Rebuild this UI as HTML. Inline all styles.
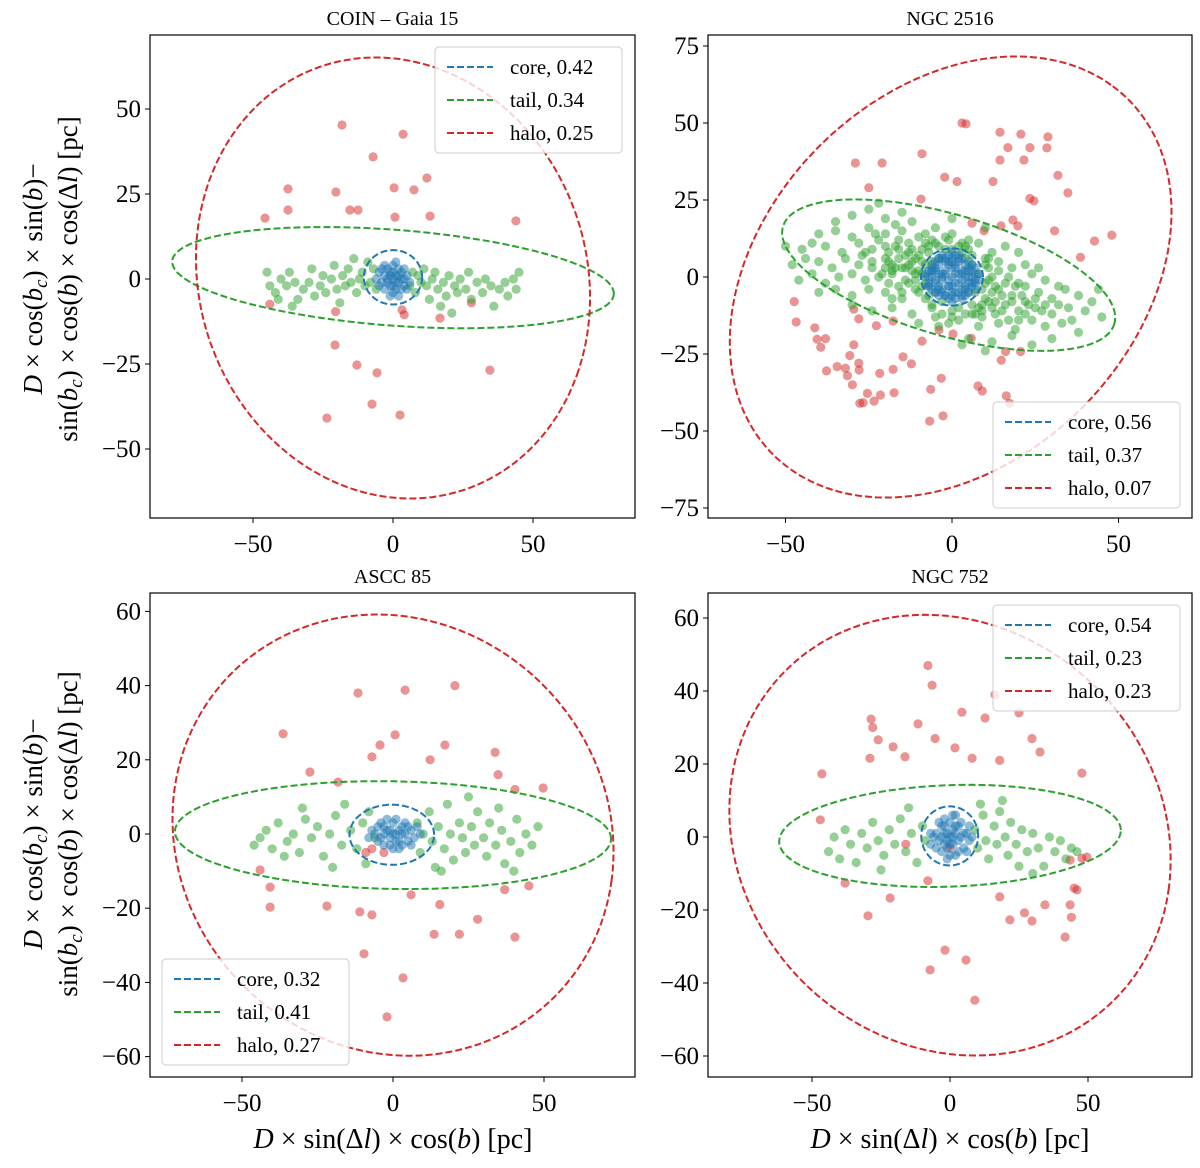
<!DOCTYPE html>
<html><head><meta charset="utf-8">
<style>
html,body{margin:0;padding:0;background:#fff;}
svg{display:block;font-family:"Liberation Serif","DejaVu Serif",serif;}
</style></head>
<body>
<svg id="fig" width="1200" height="1168" viewBox="0 0 1200 1168" xmlns="http://www.w3.org/2000/svg"></svg>
<script>
// ---------- Panel data (data coordinates, pc) ----------
const p1Title = "COIN – Gaia 15";
const p1Legend = ["core, 0.42","tail, 0.34","halo, 0.25"];
const p1XTicks = [-50,0,50];
const p1YTicks = [50,25,0,-25,-50];
const p1Halo = [-18.2,45.3,-7.1,35.9,3.6,42.6,12.1,29.7,-20.4,25.6,0.4,26.8,7.5,26.2,-37.5,26.5,-37.5,20.3,-45.7,17.9,-15.4,20.3,-12.5,20.3,0.7,18.2,13.2,18.5,43.9,17.1,-20.7,-19.4,-12.9,-25.3,-5.7,-27.6,-7.5,-36.8,2.5,-40,-23.6,-40.9,3.2,-9.1,16.8,-11.5,34.6,-26.8,-44,-7.4,-20.5,-9.6,4,-10.5,28,-7];
const p1Tail = [-45,2,-44,-2,-42,-4,-40,0,-38,-2,-37,2,-35,-1,-34,-6,-32,-3,-30,-1,-29,3,-28,-5,-26,-2,-25,1,-24,-4,-22,0,-21,4,-20,-3,-19,-7,-18,1,-17,-2,-16,3,-15,-1,-14,6,-13,-4,-12,0,-11,2,-10,-2,-9,5,-8,-1,-7,3,-6,-3,6,-2,7,2,8,-4,9,1,10,-1,11,3,12,-2,13,-6,14,0,15,2,16,-3,18,-1,19,-5,20,1,22,-2,23,-4,24,0,26,-3,27,2,28,-6,30,-1,32,-4,33,0,35,-2,36,-8,38,-3,40,-1,41,-5,43,0,44,-3,45,2,-36,-8,-41,-6,21,-10,17,-8];
const p1Core = [0,0,1,1,-1,2,2,-1,-2,-1,3,2,-3,1,1,-3,-1,-2,4,0,-4,-1,2,3,-2,3,0,4,0,-4,3,-3,-3,-3,5,1,-5,2,1,5,-1,-5,4,3,-4,3,2,-5,6,-1,-6,0,0,2,1,-1,-2,0,3,0,-1,1,2,1,5,-3,-5,-2,0,-2,-3,4,4,-2];
// ellipses: [cx, cy, semi-major, semi-minor, angle(deg)]
const p1Ell = {core:[0,0.5,10.4,8.0,0], tail:[0,0.4,79,14.1,-3.5], halo:[0,0.3,71.6,63.5,-23.5]};

const p2Title = "NGC 2516";
const p2Legend = ["core, 0.56","tail, 0.37","halo, 0.07"];
const p2XTicks = [-50,0,50];
const p2YTicks = [75,50,25,0,-25,-50,-75];
const p2Halo = [3,50,4.2,49.7,14.4,47,20.7,46.4,28.8,45.5,16.8,42,23.4,42,28.5,41.9,21.6,38,14.4,38,-29,37,-21,37,-25,29,-9,40,-2.2,32.4,1.5,31,12.3,31,-9.3,25.3,23.4,25.5,24.6,24.7,31.8,33,34.8,27.3,30.8,15,42.8,11.7,48,13.6,38.6,6.4,18.3,18.5,19.8,16.6,14.7,16.6,6,17.5,9.6,15,-47.4,-8,-46.8,-14.6,-41.2,-16.5,-40.5,-20.2,-38,-20,-39.4,-22.8,-29.5,-22,-28,-13.6,-29.5,-10.5,-22.7,-15.8,-17.7,-14.3,-30.7,-25.5,-28,-28,-34.5,-29.1,-32,-29.6,-31.4,-32,-27.9,-30.2,-37.7,-30.5,-29.9,-35,-25.4,-37.8,-27.7,-41,-26.7,-40.8,-23.4,-40.3,-21.5,-38.3,-17.4,-37.6,-17.7,-30,-21.7,-31.3,-14.7,-25.9,-12.2,-28.2,-9,-20.8,-6.4,-36.5,-3.2,-32.9,-6.7,-46.8,-2.7,-45.1,7.8,-35.4,9.1,-37,16.3,-38.6,17.3,-41,14.8,-27,16.1,-24.2,20.6,-24.2,5.8,-19.9,0.3,-18.5,-3.9,-17.2];
const p2Tail = [-30,20,-25,22,-20,19,-15,21,-12,18,-35,18,-40,14,-35,15,-30,13,-25,16,-20,14,-15,15,-10,13,-5,16,0,14,5,12,-45,9,-42,11,-38,10,-33,8,-28,11,-24,9,-20,10,-16,12,-12,9,-8,11,-4,10,0,9,4,10,8,11,12,8,-48,4,-44,6,-40,5,-36,3,-32,6,-28,4,-24,5,-20,3,-16,6,-13,4,-9,5,-6,3,6,4,10,6,14,5,18,3,22,4,-46,-1,-42,1,-38,-2,-34,0,-30,1,-26,-1,-22,0,-18,2,-14,-1,-11,1,-8,-2,8,1,11,-1,14,2,17,0,20,-2,24,1,28,-1,32,-3,-40,-5,-35,-4,-30,-6,-25,-4,-20,-5,-15,-7,-11,-4,-7,-6,7,-5,10,-7,14,-4,18,-6,22,-3,26,-5,30,-7,34,-4,38,-6,42,-8,-30,-9,-24,-11,-18,-10,-12,-12,-6,-10,0,-11,6,-12,12,-10,16,-9,20,-11,25,-10,30,-12,35,-10,40,-11,45,-13,-10,-15,-4,-16,2,-14,8,-16,14,-15,19,-17,24,-14,28,-16,33,-15,38,-18,5,-20,12,-21,18,-19,24,-22,30,-20,10,-24,-22,24,0,19,10,16,44,-4,-50,10,16,10,20,8,26,3,36,-14,3,-22,-10,7,-3,-8,4,6,-18,-7,9,-9,-27,7,-22,12,-19,8,-17,10,-14,7,-13,11,-11,6,-9,9,-7,8,-6,12,-4,6,-2,9,-1,12,2,10,3,8,5,9,6,7,-20,6,-18,4,-15,3,-12,5,-10,2,-8,4,-6,5,-21,1,-19,-2,-16,-3,-13,-2,-9,-3,-10,-5,-8,-7,-6,-9,-3,-12,0,-13,2,-10,4,-12,6,-9,8,-10,9,-13,11,-8,12,-5,13,-3,15,-6,16,-2,18,-8,19,-3,21,-6,23,-9,13,-12,15,-11,17,-14,20,-14,22,-8,25,-7,27,-11,-14,3,-24,3,-26,8,-23,14,-17,17,-8,14,-2,13,22,-12,28,-9,32,-9,-5,-13,-1,-15,-12,2,-11,-1,-13,8,-9,1,-7,10,-5,11,3,11,9,-4,10,-2,11,3,12,0,13,-8,9,-11,7,-12,10,4,11,6,-16,9,-18,1,-15,-5,-17,3,-19,5];
const p2Core = [0,0,2,1,-2,1,1,-2,-1,-3,4,2,-4,1,3,-4,-3,-4,5,0,-5,-1,2,5,-2,5,0,6,0,-6,5,-5,-5,-5,7,1,-7,2,1,7,-1,-7,6,4,-6,4,3,-7,8,-1,-8,0,0,3,2,-2,-3,0,4,0,-2,2,3,2,7,-4,-7,-3,0,-3,-4,6,6,-3,-6,-4,-4,-6,4,-6,6,2,-6,2,-2,-6,2,7,-3,7,7,-2,-7,-2,1,4,-1,4,5,3,-5,3,4,-3,-4,-3,3,6,-3,-5,0,-8,0,8,8,1,-8,1,1,1,-1,-1,3,1,-3,-1,1,3,-1,-3,3,-1,-3,1,5,2,-5,-2,2,-5,-2,6,5,-2,-5,2,6,0,-6,0,0,5,0,-5,4,4,-4,-4,4,-4,-4,4,6,-2,-6,2,2,6,-2,-6,7,3,-7,-3,3,-6,-3,6,1,-5,-1,5,5,5,-5,-5,5,-5,-5,5,7,-1,-7,0,1,-7,-1,7];
const p2Ell = {core:[0,0,9.3,9.3,0], tail:[-1,0.6,52.2,19.5,-18], halo:[-0.4,0,78.8,57.6,52.3]};

const p3Title = "ASCC 85";
const p3Legend = ["core, 0.32","tail, 0.41","halo, 0.27"];
const p3XTicks = [-50,0,50];
const p3YTicks = [60,40,20,0,-20,-40,-60];
const p3Halo = [-11.6,38,4,38.8,20.5,40,-36.4,27,-27.5,16.7,-18.2,14,-4.3,24,-7,20.8,0.7,26.7,17.2,24,33.8,22,34.8,16,40.4,12,49.7,12.4,12.3,20,-44,-9.7,-40.7,-14.3,-21.9,-19.4,-11,-21,-7,-21.8,6,-16.4,13.6,-27,22,-27,28,-23,40.4,-27.8,-9.6,-32.3,3.3,-38.8,-2,-49.3,-40.7,-19.7,37,-15,45,-14,15.5,-19,-7,-4,-9,-5,-3,-5];
const p3Tail = [-46,-3,-42,1,-40,-4,-38,3,-35,-2,-33,0,-31,-5,-29,4,-27,-1,-25,2,-23,-6,-21,0,-19,5,-17,-3,-16,8,-14,1,-12,-4,-10,3,-9,-8,-8,6,-6,-1,8,3,9,-5,10,0,12,6,13,-2,14,-9,15,2,17,-4,18,8,19,0,20,-7,22,3,23,-1,24,-5,26,2,27,-3,28,6,30,-1,31,-6,32,3,34,-3,36,1,37,-8,39,-2,41,4,42,-5,44,0,46,-3,48,2,-44,-1,-36,-6,-30,7,-20,-9,16,-10,25,10,35,7,40,-10];
const p3Core = [0,0,2,1,-2,1,4,0,-4,-1,1,-2,-1,-3,3,2,-3,2,6,1,-6,0,5,-2,-5,-2,0,3,0,-4,7,-1,-7,1,2,-4,-2,4,8,2,-8,-1,3,-3,-3,-3,1,4,4,3,-4,3,9,0,-1,1,1,0,6,-3,-1,-1,3,0,-3,0,5,2,-5,2,2,-2];
const p3Ell = {core:[-0.4,-0.2,14.0,8.1,0], tail:[0,-0.3,72.2,14.5,-0.8], halo:[0,-0.3,73.4,59.0,-9.8]};

const p4Title = "NGC 752";
const p4Legend = ["core, 0.54","tail, 0.23","halo, 0.23"];
const p4XTicks = [-50,0,50];
const p4YTicks = [60,40,20,0,-20,-40,-60];
const p4Halo = [-8,47,-6.5,41.6,-28.6,32.3,-28,30,-26,26.6,-20.6,24.7,-29,21.6,-16.3,22,-11.6,31,-5.4,27,4.3,34.2,12.7,32.6,16.3,39,25,34,29.7,27,18,21,8,21.6,1.8,24.4,32.6,23.3,47.8,17.5,-46.4,17.3,-47,4.7,-29.7,-21.6,-7.2,-36.4,-1.8,-31,5.8,-33.7,9,-44.7,18,-16.4,27,-20.8,34.4,-18.6,41.7,-27.4,45,-14,43.5,-18.6,44,-22,46,-14.5,47.8,-5.8,43.5,-6.3,29.7,-23,21.7,-22.7,-21.7,-16.7,-38,-12.6,49.6,-5.5,-16,-2,-8,-12,0,-3];
const p4Tail = [-44,-4,-42,0,-40,-6,-38,2,-36,-2,-34,-7,-32,1,-30,-3,-28,4,-26,-1,-24,-5,-22,2,-20,-2,-18,5,-16,-4,-14,1,-12,-7,-10,3,-9,-1,9,2,10,-3,12,6,13,-1,14,-6,16,3,17,-2,18,7,20,0,21,-5,22,4,24,-2,25,-8,26,2,28,-4,30,1,32,-3,34,-8,36,0,38,-4,40,-1,42,-6,44,-3,46,-4,19,10,11,9,-15,8,-25,-9,30,-10];
const p4Core = [0,0,2,1,-2,1,4,0,-4,-1,1,-2,-1,-3,3,3,-3,3,6,1,-6,0,5,-3,-5,-3,0,4,0,-5,7,-1,-7,1,2,-5,-2,5,7,3,-7,-2,3,-4,-3,-4,1,6,4,4,-4,4,8,0,-1,1,1,0,6,-4,-1,-6,2,6,-1,-1,1,2,-2,-2,3,-1,-3,0,2,3,-2,3,5,1,-5,1,0,-2];
const p4Ell = {core:[-0.1,0.3,10.3,8.1,0], tail:[0,0.3,61.9,13.9,1.5], halo:[0,0.5,80.6,59.5,-10.8]};

// ---------- drawing ----------
const NS = "http://www.w3.org/2000/svg";
const svg = document.getElementById('fig');
const C = {core:"#1f77b4", tail:"#2ca02c", halo:"#d62728"};

function mk(tag, attrs, parent){
  const e = document.createElementNS(NS, tag);
  for (const k in attrs) e.setAttribute(k, attrs[k]);
  (parent||svg).appendChild(e);
  return e;
}
function fmt(v){ return v<0 ? "\u2212"+Math.abs(v) : ""+v; }

function panel(o){
  const g = mk('g', {});
  
  
  const X = v => o.x0 + v*o.sx;
  const Y = v => o.y0 - v*o.sy;
  const cid = o.name + "-clip";
  const cp = mk('clipPath', {id:cid}, g);
  mk('rect', {x:o.L, y:o.T, width:o.R-o.L, height:o.B-o.T}, cp);
  const plot = mk('g', {'clip-path':'url(#'+cid+')'}, g);
  
  
  const sets = [['halo',o.halo],['tail',o.tail],['core',o.core]];
  sets.forEach(([k,arr])=>{
    const sg = mk('g', {fill:C[k], 'fill-opacity':0.5}, plot);
    
    
    for (let i=0;i<arr.length;i+=2){
      const c = mk('circle', {cx:X(arr[i]).toFixed(1), cy:Y(arr[i+1]).toFixed(1), r:4.6}, sg);
      
      
    }
  });
  ['core','tail','halo'].forEach(k=>{
    const e = o.ell[k];
    const th = e[4]*Math.PI/180, ct = Math.cos(th), st = Math.sin(th);
    let d = "";
    for (let i=0;i<=200;i++){
      const t = i/200*2*Math.PI;
      const ax = e[2]*Math.cos(t), by = e[3]*Math.sin(t);
      const x = e[0] + ax*ct - by*st;
      const y = e[1] + ax*st + by*ct;
      d += (i?"L":"M") + X(x).toFixed(1) + "," + Y(y).toFixed(1);
    }
    const p = mk('path', {d:d+"Z", fill:'none', stroke:C[k], 'stroke-width':2, 'stroke-dasharray':'7,3'}, plot);
    
    
  });
  const fr = mk('rect', {x:o.L, y:o.T, width:o.R-o.L, height:o.B-o.T, fill:'none', stroke:'#000', 'stroke-width':1.2}, g);
  
  
  o.xt.forEach(v=>{
    const px = X(v);
    const tk = mk('line', {x1:px, x2:px, y1:o.B, y2:o.B+5, stroke:'#000', 'stroke-width':1}, g);
    
    
    const tl = mk('text', {x:px, y:o.B+34, 'text-anchor':'middle', 'font-size':25}, g);
    tl.textContent = fmt(v);
    
    
  });
  o.yt.forEach(v=>{
    const py = Y(v);
    const tk = mk('line', {x1:o.L-5, x2:o.L, y1:py, y2:py, stroke:'#000', 'stroke-width':1}, g);
    
    
    const tl = mk('text', {x:o.L-9, y:py+8, 'text-anchor':'end', 'font-size':25}, g);
    tl.textContent = fmt(v);
    
    
  });
  const tt = mk('text', {x:(o.L+o.R)/2, y:o.T-10, 'text-anchor':'middle', 'font-size':20}, g);
  tt.textContent = o.title;
  
  
  const lg = mk('g', {}, g);
  
  
  mk('rect', {x:o.lx, y:o.ly, width:187, height:106, rx:4, fill:'#fff', 'fill-opacity':0.8, stroke:'#ccc'}, lg);
  ['core','tail','halo'].forEach((k,i)=>{
    const yy = o.ly + 20 + i*33;
    const ln = mk('line', {x1:o.lx+12, x2:o.lx+58, y1:yy, y2:yy, stroke:C[k], 'stroke-width':2, 'stroke-dasharray':'7,3'}, lg);
    
    
    const tx = mk('text', {x:o.lx+75, y:yy+7, 'font-size':21}, lg);
    tx.textContent = o.legend[i];
    
    
  });
}

panel({name:'panel-coin-gaia-15', L:150,R:635,T:35,B:518, x0:393,sx:2.8,y0:279,sy:3.4,
  halo:p1Halo, tail:p1Tail, core:p1Core, ell:p1Ell, xt:p1XTicks, yt:p1YTicks, title:p1Title, legend:p1Legend, lx:435, ly:47});
panel({name:'panel-ngc-2516', L:708,R:1192,T:35,B:518, x0:952,sx:3.33,y0:277,sy:3.08,
  halo:p2Halo, tail:p2Tail, core:p2Core, ell:p2Ell, xt:p2XTicks, yt:p2YTicks, title:p2Title, legend:p2Legend, lx:993, ly:402});
panel({name:'panel-ascc-85', L:150,R:635,T:593,B:1077, x0:393,sx:3.02,y0:834,sy:3.71,
  halo:p3Halo, tail:p3Tail, core:p3Core, ell:p3Ell, xt:p3XTicks, yt:p3YTicks, title:p3Title, legend:p3Legend, lx:162, ly:959});
panel({name:'panel-ngc-752', L:708,R:1192,T:593,B:1077, x0:950,sx:2.76,y0:837,sy:3.65,
  halo:p4Halo, tail:p4Tail, core:p4Core, ell:p4Ell, xt:p4XTicks, yt:p4YTicks, title:p4Title, legend:p4Legend, lx:993, ly:605});

function ylabel(cy){
  const g = mk('g', {transform:'rotate(-90 0 0)'});
  
  
  const t1 = mk('text', {x:-cy, y:42, 'text-anchor':'middle', 'font-size':27}, g);
  t1.innerHTML = '<tspan font-style="italic">D</tspan> × cos(<tspan font-style="italic">b<tspan font-size="19" dy="5">c</tspan></tspan><tspan dy="-5">) × sin(</tspan><tspan font-style="italic">b</tspan>)−';
  const t2 = mk('text', {x:-cy, y:77, 'text-anchor':'middle', 'font-size':27}, g);
  t2.innerHTML = 'sin(<tspan font-style="italic">b<tspan font-size="19" dy="5">c</tspan></tspan><tspan dy="-5">) × cos(</tspan><tspan font-style="italic">b</tspan>) × cos(Δ<tspan font-style="italic">l</tspan>) [pc]';
}
ylabel(279); ylabel(834);
function xlabel(cx){
  const t = mk('text', {x:cx, y:1148, 'text-anchor':'middle', 'font-size':28});
  t.innerHTML = '<tspan font-style="italic">D</tspan> × sin(Δ<tspan font-style="italic">l</tspan>) × cos(<tspan font-style="italic">b</tspan>) [pc]';
  
  
}
xlabel(393); xlabel(950);
</script>
</body></html>
